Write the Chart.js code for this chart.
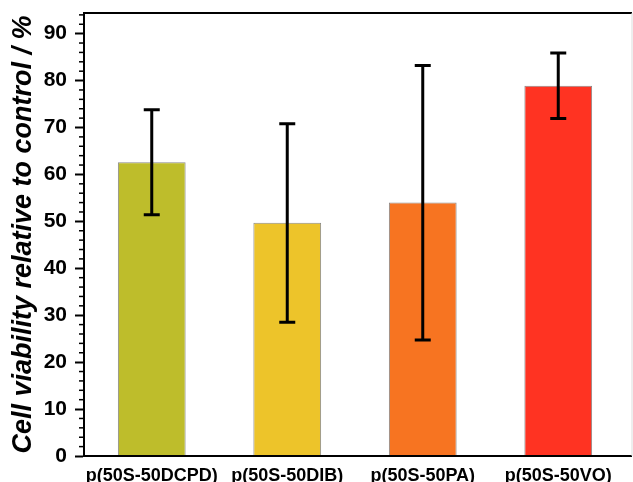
<!DOCTYPE html>
<html>
<head>
<meta charset="utf-8">
<script src="https://cdn.jsdelivr.net/npm/chart.js@4"></script>
<style>
  html, body { margin: 0; padding: 0; background: #fff; }
  #wrap { width: 633px; height: 482px; }
</style>
</head>
<body>
<div id="wrap"><canvas id="chart"></canvas></div>
<script>
const categories = ['p(50S-50DCPD)', 'p(50S-50DIB)', 'p(50S-50PA)', 'p(50S-50VO)'];
const viability = [62.6, 49.7, 54.0, 78.9];
const errHigh = [73.8, 70.8, 83.2, 85.9];
const errLow = [51.4, 28.5, 24.7, 71.9];
const barColors = ['#bebd2b', '#edc42a', '#f77421', '#ff3322'];
const yTicks = [0, 10, 20, 30, 40, 50, 60, 70, 80, 90];

// error bars + minor ticks + frame
const extras = {
  id: 'extras',
  afterDatasetsDraw(chart) {
    const ctx = chart.ctx;
    const x = chart.scales.x, y = chart.scales.y;
    const area = chart.chartArea;
    ctx.save();
    ctx.strokeStyle = '#000';
    ctx.lineWidth = 3;
    categories.forEach((c, i) => {
      const cx = x.getPixelForValue(i);
      const top = y.getPixelForValue(errHigh[i]);
      const bot = y.getPixelForValue(errLow[i]);
      ctx.beginPath();
      ctx.moveTo(cx, top); ctx.lineTo(cx, bot);
      ctx.moveTo(cx - 8, top); ctx.lineTo(cx + 8, top);
      ctx.moveTo(cx - 8, bot); ctx.lineTo(cx + 8, bot);
      ctx.stroke();
    });
    // minor ticks
    ctx.lineWidth = 1.5;
    for (let v = 2; v < y.max; v += 2) {
      if (v % 10 === 0) continue;
      const py = y.getPixelForValue(v);
      ctx.beginPath();
      ctx.moveTo(area.left - 5, py); ctx.lineTo(area.left, py);
      ctx.stroke();
    }
    // frame
    ctx.lineWidth = 2;
    ctx.beginPath();
    ctx.moveTo(area.left, area.top); ctx.lineTo(632, area.top);
    ctx.moveTo(area.left, area.bottom); ctx.lineTo(632, area.bottom);
    ctx.stroke();
    ctx.strokeStyle = '#ddd';
    ctx.lineWidth = 1;
    ctx.beginPath();
    ctx.moveTo(632, area.top); ctx.lineTo(632, area.bottom);
    ctx.stroke();
    ctx.restore();
  }
};

new Chart(document.getElementById('chart'), {
  type: 'bar',
  data: {
    labels: categories,
    datasets: [{
      data: viability,
      backgroundColor: barColors,
      borderColor: '#8a8a8a',
      borderWidth: 1,
      barPercentage: 0.5,
      categoryPercentage: 1.0
    }]
  },
  options: {
    responsive: true,
    maintainAspectRatio: false,
    animation: false,
    layout: { padding: { top: 13, right: 7, left: 0, bottom: 0 } },
    plugins: { legend: { display: false }, tooltip: { enabled: false } },
    scales: {
      x: {
        grid: { display: false },
        border: { display: false },
        ticks: {
          color: '#000',
          padding: 1,
          autoSkip: false,
          maxRotation: 0,
          minRotation: 0,
          font: { family: 'Arial, Liberation Sans', size: 18, weight: 'bold' }
        },
        afterFit(scale) {
          scale.height = 26;
          scale.paddingLeft = 0;
          scale.paddingRight = 0;
        }
      },
      y: {
        min: 0,
        max: 94.4,
        afterBuildTicks(scale) { scale.ticks = yTicks.map(v => ({ value: v })); },
        grid: { drawOnChartArea: false, tickLength: 9, tickWidth: 2, tickColor: '#000' },
        border: { display: true, color: '#000', width: 2 },
        ticks: {
          color: '#000',
          padding: 8,
          font: { family: 'Arial, Liberation Sans', size: 21, weight: 'bold' }
        },
        title: {
          display: true,
          text: 'Cell viability relative to control / %',
          color: '#000',
          padding: { top: 7, bottom: 0 },
          font: { family: 'Arial, Liberation Sans', size: 27, weight: 'bold', style: 'italic' }
        },
        afterFit(scale) {
          scale.width = 84;
          scale.paddingTop = 0;
          scale.paddingBottom = 0;
        }
      }
    }
  },
  plugins: [extras]
});
</script>
</body>
</html>
